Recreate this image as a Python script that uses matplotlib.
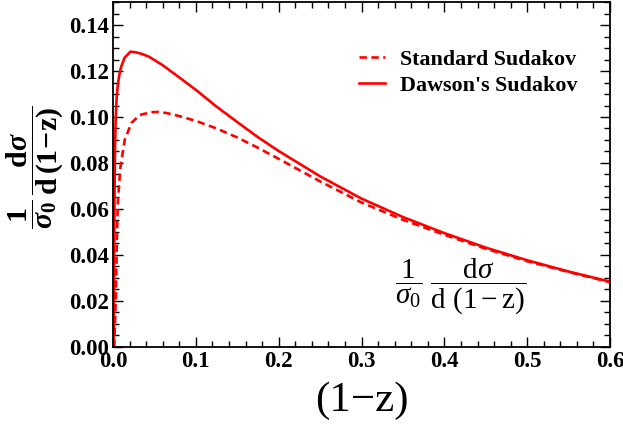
"""
Differential distribution (1/sigma_0) dsigma/d(1-z) for the standard and
Dawson's Sudakov form factors.

Writes: out.png
"""

import matplotlib
matplotlib.use("Agg")
import matplotlib.pyplot as plt
from matplotlib.ticker import MultipleLocator

SERIF = "Liberation Serif"

plt.rcParams["font.family"] = SERIF
plt.rcParams["mathtext.fontset"] = "custom"
plt.rcParams["mathtext.rm"] = SERIF
plt.rcParams["mathtext.it"] = SERIF + ":italic"
plt.rcParams["mathtext.bf"] = SERIF + ":bold"
plt.rcParams["mathtext.bfit"] = SERIF + ":italic:bold"

# (1-z) values and curves
X_STANDARD = [0.0015, 0.002, 0.0033, 0.0041, 0.0048, 0.006, 0.0089, 0.0141,
              0.0222, 0.0323, 0.0464, 0.055, 0.065, 0.080,
              0.100, 0.125, 0.150, 0.175, 0.200, 0.250, 0.300, 0.350,
              0.400, 0.450, 0.500, 0.550, 0.600]
Y_STANDARD = [0.0, 0.006, 0.0204, 0.035, 0.0496, 0.064, 0.078, 0.090,
              0.0974, 0.1009, 0.1021, 0.1022, 0.1017, 0.1004,
              0.0983, 0.0950, 0.0911, 0.0866, 0.0818, 0.0720, 0.0628, 0.0553,
              0.0488, 0.0427, 0.0373, 0.0326, 0.0282]

X_DAWSON = [0.0008, 0.0012, 0.0018, 0.0025, 0.0033, 0.0045, 0.006, 0.008,
            0.010, 0.014, 0.021, 0.028, 0.035, 0.0435, 0.060, 0.080,
            0.100, 0.125, 0.150, 0.175, 0.200, 0.250, 0.300, 0.350,
            0.400, 0.450, 0.500, 0.550, 0.600]
Y_DAWSON = [0.0, 0.030, 0.065, 0.088, 0.100, 0.109, 0.1147, 0.119,
            0.122, 0.1258, 0.1284, 0.1281, 0.1274, 0.1262, 0.1225, 0.1172,
            0.1118, 0.1045, 0.0978, 0.0912, 0.0852, 0.0742, 0.0645, 0.0565,
            0.0495, 0.0432, 0.0377, 0.0328, 0.0284]

SERIES = [
    ("Standard Sudakov", X_STANDARD, Y_STANDARD, (0, (2.8, 1.7))),
    ("Dawson's Sudakov", X_DAWSON, Y_DAWSON, "-"),
]

X_TICKS = [0.0, 0.1, 0.2, 0.3, 0.4, 0.5, 0.6]
Y_TICKS = [0.00, 0.02, 0.04, 0.06, 0.08, 0.10, 0.12, 0.14]

YLABEL = (r"$\dfrac{\mathbf{1}}{\mathbfit{\sigma}_{\mathbf{0}}}\,"
          r"\dfrac{\mathbf{d}\mathbfit{\sigma}}{\mathbf{d\,(1\!-\!z)}}$")
INSET = r"$\dfrac{1}{\sigma_0}\ \dfrac{\ \ \mathrm{d}\sigma\ \ }{\mathrm{d\ (1-z)}}$"


def main():
    fig = plt.figure(figsize=(6.23, 4.28), dpi=100)
    ax = fig.add_axes([0.1814, 0.1893, 0.7978, 0.8060])

    for label, xs, ys, ls in SERIES:
        ax.plot(xs, ys, color="red", lw=1.9, ls=ls, label=label)

    ax.set_xlim(0, 0.6)
    ax.set_ylim(0, 0.15)
    ax.set_xticks(X_TICKS)
    ax.set_yticks(Y_TICKS)
    ax.set_xticklabels([f"{v:.1f}" for v in X_TICKS])
    ax.set_yticklabels([f"{v:.2f}" for v in Y_TICKS])
    ax.xaxis.set_minor_locator(MultipleLocator(0.02))
    ax.yaxis.set_minor_locator(MultipleLocator(0.005))
    ax.tick_params(which="both", direction="in", top=True, right=True,
                   width=1.0, labelsize=16.5, pad=3)
    ax.tick_params(which="major", length=7)
    ax.tick_params(which="minor", length=4)
    for lbl in ax.get_xticklabels() + ax.get_yticklabels():
        lbl.set_fontweight("bold")
    for sp in ax.spines.values():
        sp.set_linewidth(1.3)

    ax.set_xlabel("(1\u2212z)", fontsize=31, labelpad=7)
    ax.set_ylabel(YLABEL, fontsize=21.5)
    ax.yaxis.set_label_coords(-0.097, 0.52)

    ax.text(0.70, 0.175, INSET, transform=ax.transAxes, fontsize=21,
            ha="center", va="center")

    ax.legend(loc="upper right", bbox_to_anchor=(0.975, 0.92), frameon=False,
              prop={"family": SERIF, "weight": "bold", "size": 15.8},
              handlelength=1.2, handletextpad=0.7, labelspacing=0.25)

    fig.savefig("out.png", dpi=100)
    plt.close(fig)


if __name__ == "__main__":
    main()
